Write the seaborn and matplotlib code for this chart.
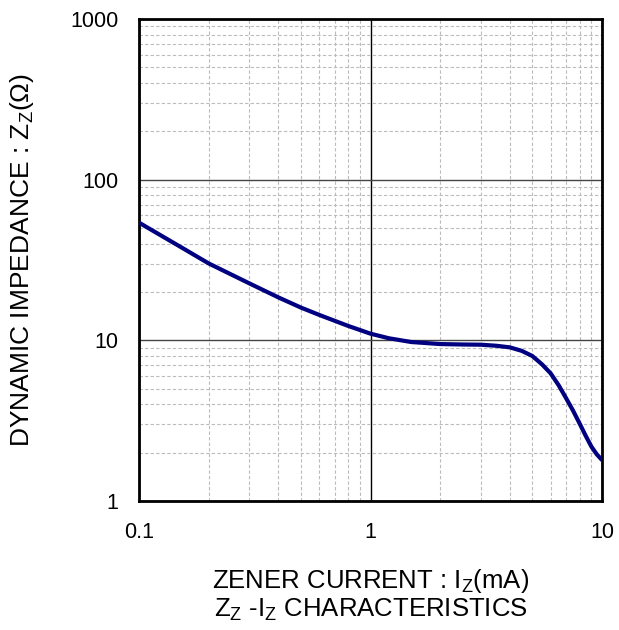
import matplotlib
matplotlib.use("Agg")
import matplotlib.pyplot as plt
import matplotlib.ticker as mticker
import seaborn as sns
import numpy as np

sns.set_theme(style="white")
plt.rcParams['font.family'] = ['Liberation Sans', 'DejaVu Sans']
plt.rcParams['mathtext.default'] = 'regular'

# zener current (mA) and dynamic impedance (ohm)
iz = [0.1, 0.15, 0.2, 0.3, 0.4, 0.5, 0.6, 0.8, 1.0, 1.2, 1.5, 2.0, 2.5, 3.0,
      3.5, 4.0, 4.5, 5.0, 5.5, 6.0, 6.5, 7.0, 7.5, 8.0, 8.5, 9.0, 9.5, 10.0]
zz = [54.0, 38.4, 30.1, 22.6, 18.5, 16.0, 14.4, 12.3, 11.0, 10.3, 9.76, 9.48, 9.42, 9.39,
      9.25, 9.04, 8.6, 7.99, 7.1, 6.23, 5.25, 4.36, 3.65, 3.04, 2.55, 2.18, 1.95, 1.80]

x_ticks = [0.1, 1, 10]
x_labels = ['0.1', '1', '10']
y_ticks = [1, 10, 100, 1000]
y_labels = ['1', '10', '100', '1000']

fig = plt.figure(figsize=(6.19, 6.30), dpi=100)
ax = fig.add_axes([0.2246, 0.2048, 0.9725 - 0.2246, 0.9698 - 0.2048])

sns.lineplot(x=iz, y=zz, ax=ax, color='#000080', linewidth=3.0, zorder=5)

ax.set_xscale('log')
ax.set_yscale('log')
ax.set_xlim(0.1, 10)
ax.set_ylim(1, 1000)

ax.xaxis.set_major_locator(mticker.FixedLocator(x_ticks))
ax.xaxis.set_major_formatter(mticker.FixedFormatter(x_labels))
ax.yaxis.set_major_locator(mticker.FixedLocator(y_ticks))
ax.yaxis.set_major_formatter(mticker.FixedFormatter(y_labels))
ax.xaxis.set_minor_locator(mticker.LogLocator(base=10, subs=np.arange(2, 10)))
ax.yaxis.set_minor_locator(mticker.LogLocator(base=10, subs=np.arange(2, 10)))
ax.xaxis.set_minor_formatter(mticker.NullFormatter())
ax.yaxis.set_minor_formatter(mticker.NullFormatter())

ax.grid(which='minor', color='#bbbbbb', linestyle=(0, (3, 2)), linewidth=0.8)
ax.grid(which='major', axis='x', color='black', linestyle='-', linewidth=1.0)
ax.grid(which='major', axis='y', color='#444444', linestyle='-', linewidth=1.0)
ax.set_axisbelow(True)

ax.tick_params(which='both', length=0)
ax.tick_params(axis='x', pad=15, labelsize=15.5, colors='black')
ax.tick_params(axis='y', pad=15, labelsize=15.5, colors='black')

for s in ax.spines.values():
    s.set_color('black')
    s.set_linewidth(2.0)
    s.set_visible(True)

ax.set_xlabel('ZENER CURRENT : I$_{Z}$(mA)\nZ$_{Z}$ -I$_{Z}$ CHARACTERISTICS',
              fontsize=18.5, color='black', linespacing=1.1)
ax.set_ylabel('DYNAMIC IMPEDANCE : Z$_{Z}$(\u03a9)', fontsize=19, color='black')
ax.xaxis.set_label_coords(0.5, -0.137)
ax.yaxis.set_label_coords(-0.222, 0.5)

fig.savefig('out.png', dpi=100, facecolor='white')
